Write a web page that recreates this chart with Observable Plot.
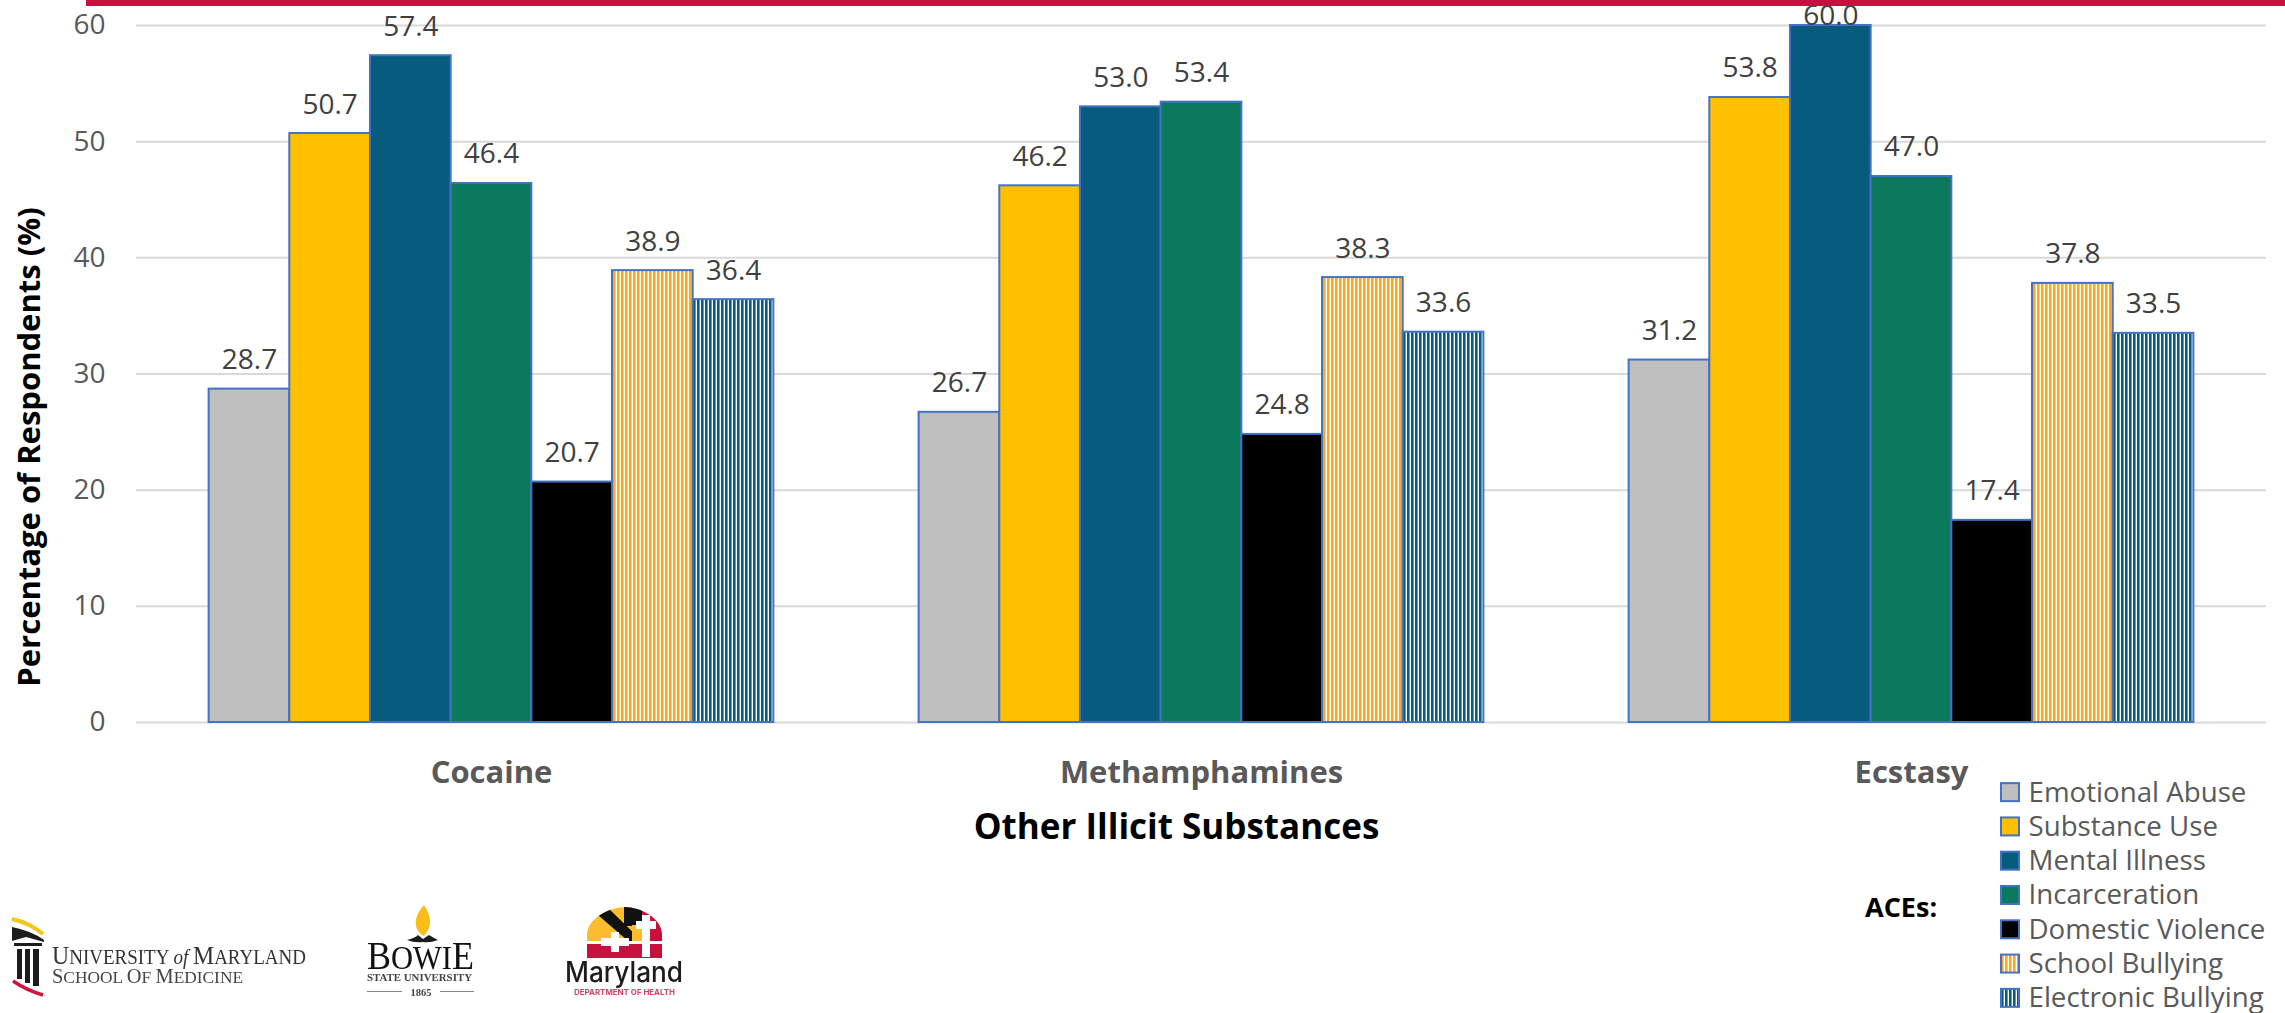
<!DOCTYPE html>
<html>
<head>
<meta charset="utf-8">
<script src="https://cdn.jsdelivr.net/npm/d3@7"></script>
<script src="https://cdn.jsdelivr.net/npm/@observablehq/plot@0.6"></script>
<style>
  html, body { margin: 0; padding: 0; background: #fff; overflow: hidden; }
  #page { position: relative; width: 2285px; height: 1013px; overflow: hidden; font-family: "Open Sans", sans-serif; }
  #page > * { position: absolute; }
  #topband { left: 86px; top: 0; right: 0; height: 6px; background: #c8103e; z-index: 5; }
  #chart { left: 0; top: 0; }
  #legend { left: 2000px; top: 775px; }
  #aces { left: 1865px; top: 889px; font: 700 27px "Open Sans", sans-serif; color: #000; line-height: 36px; }
  #logos { left: 0; top: 890px; filter: blur(0.7px); }
  svg { overflow: visible; }
</style>
</head>
<body>
<div id="page">
  <svg width="0" height="0" aria-hidden="true">
    <defs>
      <pattern id="stripes-orange" patternUnits="userSpaceOnUse" width="4" height="4">
        <rect width="4" height="4" fill="#fff"/><rect x="1" width="2.6" height="4" fill="#fba825"/>
      </pattern>
      <pattern id="stripes-teal" patternUnits="userSpaceOnUse" width="4" height="4">
        <rect width="4" height="4" fill="#fff"/><rect x="1" width="2.6" height="4" fill="#075c7e"/>
      </pattern>
      <clipPath id="arch"><path d="M587 958V935C587 918 610 907 625 907C640 907 662 918 662 935V958Z"/></clipPath>
    </defs>
  </svg>
  <div id="chart"></div>
  <div id="topband"></div>
  <div id="legend"></div>
  <div id="aces">ACEs:</div>

  <!-- Partner logos -->
  <svg id="logos" width="720" height="123" viewBox="0 890 720 123">
    <g>
      <path d="M12 919Q30 923 43 934" fill="none" stroke="#f6c61d" stroke-width="4"/>
      <path d="M12 927Q32 931 44 940V942L26 937L12 941Z" fill="#1c1c1c"/>
      <rect x="14" y="943" width="28" height="3" fill="#1c1c1c"/>
      <rect x="17" y="949" width="5" height="30" fill="#1c1c1c"/>
      <rect x="25" y="949" width="5" height="34" fill="#1c1c1c"/>
      <rect x="33" y="949" width="6" height="37" fill="#1c1c1c"/>
      <path d="M13 981Q26 990 43 995" fill="none" stroke="#d3133c" stroke-width="3.5"/>
      <text x="52" y="964" font-family="Liberation Serif" font-size="20" fill="#333" textLength="254" lengthAdjust="spacingAndGlyphs"><tspan font-size="25">U</tspan>NIVERSITY <tspan font-style="italic">of</tspan> <tspan font-size="25">M</tspan>ARYLAND</text>
      <text x="52" y="983" font-family="Liberation Serif" font-size="17" fill="#444" textLength="191" lengthAdjust="spacingAndGlyphs"><tspan font-size="20">S</tspan>CHOOL <tspan font-size="20">O</tspan>F <tspan font-size="20">M</tspan>EDICINE</text>
    </g>
    <g>
      <path d="M424 905C432 917 432 927 424 936C414 931 412 918 424 905Z" fill="#fbbd1a"/>
      <path d="M407 940Q415 938 418 935L423 939L429 935Q434 938 438 940Q430 943 423 942Q414 943 407 940Z" fill="#1c1c1c"/>
      <text x="367" y="969" font-family="Liberation Serif" font-size="33" fill="#111" textLength="107" lengthAdjust="spacingAndGlyphs"><tspan font-size="39">B</tspan>OWI<tspan font-size="39">E</tspan></text>
      <text x="367" y="981" font-family="Liberation Serif" font-weight="700" font-size="11" fill="#444" textLength="105" lengthAdjust="spacingAndGlyphs">STATE UNIVERSITY</text>
      <text x="421" y="996" font-family="Liberation Serif" font-weight="700" font-size="10.5" fill="#444" text-anchor="middle">1865</text>
      <path d="M367 991.5H402M440 991.5H474" stroke="#888" stroke-width="1.2"/>
    </g>
    <g>
      <g clip-path="url(#arch)">
        <rect x="587" y="905" width="76" height="36" fill="#fbbd2e"/>
        <path d="M605 905L642 941H628L598 915Z" fill="#111"/>
        <rect x="624" y="905" width="19" height="21" fill="#111"/>
        <rect x="642" y="905" width="21" height="36" fill="#c8103e"/>
        <path d="M632 925H643V941H632Z" fill="#fbbd2e"/>
        <rect x="587" y="944" width="76" height="14" fill="#c8103e"/>
        <path d="M642 915h8v6h6v8h-6v28h-8v-28h-6v-8h6Z" fill="#fff"/>
        <path d="M611 932h8v6h10v8h-10v6h-8v-6h-10v-8h10Z" fill="#fff"/>
      </g>
      <text x="565" y="982" font-family="Inter" font-weight="500" font-size="28" fill="#1c1c1c" textLength="118" lengthAdjust="spacingAndGlyphs">Maryland</text>
      <text x="574" y="995" font-family="Inter" font-weight="700" font-size="7.5" fill="#d8416a" textLength="101" lengthAdjust="spacingAndGlyphs">DEPARTMENT OF HEALTH</text>
    </g>
  </svg>
</div>

<script>
// Adverse childhood experiences by other illicit substance use
const substances = ["Cocaine", "Methamphamines", "Ecstasy"];
const aces = ["Emotional Abuse", "Substance Use", "Mental Illness", "Incarceration", "Domestic Violence", "School Bullying", "Electronic Bullying"];
const cocaine = [28.7, 50.7, 57.4, 46.4, 20.7, 38.9, 36.4];
const methamphamines = [26.7, 46.2, 53.0, 53.4, 24.8, 38.3, 33.6];
const ecstasy = [31.2, 53.8, 60.0, 47.0, 17.4, 37.8, 33.5];
const yTicks = [0, 10, 20, 30, 40, 50, 60];
const fills = ["#bfbfbf", "#ffc000", "#075c7e", "#0b7a5c", "#000000", "url(#stripes-orange)", "url(#stripes-teal)"];

const outline = "#4472c4";
const textGrey = "#595959";
const font = '"Open Sans", sans-serif';

const rows = [cocaine, methamphamines, ecstasy].flatMap((values, i) =>
  values.map((value, j) => ({substance: substances[i], ace: aces[j], value}))
);
const colorScale = {type: "ordinal", domain: aces, range: fills};

const chart = Plot.plot({
  width: 2285,
  height: 860,
  marginLeft: 136,
  marginRight: 19,
  marginTop: 25,
  marginBottom: 138,
  style: {fontFamily: font, background: "transparent"},
  fx: {domain: substances, padding: 0, round: false, label: null},
  x: {domain: aces, axis: null, paddingInner: 0, paddingOuter: 0.9, round: false},
  y: {domain: [0, 60]},
  color: colorScale,
  marks: [
    Plot.gridY(yTicks, {stroke: "#d9d9d9", strokeOpacity: 1, strokeWidth: 2}),
    Plot.axisY({ticks: yTicks, anchor: "left", tickSize: 0, tickPadding: 31, fontSize: 28, fill: textGrey, label: null}),
    Plot.axisFx({anchor: "bottom", tickSize: 0, tickPadding: 38, fontSize: 31, fontWeight: 700, fill: textGrey, label: null}),
    // Axis titles sit off-centre, so they are placed from the frame edges
    Plot.text(["Percentage of Respondents (%)"], {fx: () => substances[0], text: (d) => d, frameAnchor: "left", textAnchor: "middle", rotate: -90, dx: -106, dy: 73, fontSize: 31, fontWeight: 700, fill: "#000"}),
    Plot.text(["Other Illicit Substances"], {fx: () => substances[1], text: (d) => d, frameAnchor: "bottom", lineAnchor: "middle", dx: -25, dy: 105, fontSize: 35, fontWeight: 700, fill: "#000"}),
    Plot.barY(rows, {fx: "substance", x: "ace", y: "value", fill: "ace", stroke: outline, strokeWidth: 2}),
    Plot.text(rows.filter((d) => d.value < 60), {fx: "substance", x: "ace", y: "value", text: (d) => d.value.toFixed(1), dy: -29, fontSize: 28, fill: "#404040"}),
    // The tallest bar reaches the top of the frame, so its label sits tighter
    Plot.text(rows.filter((d) => d.value >= 60), {fx: "substance", x: "ace", y: "value", text: (d) => d.value.toFixed(1), dy: -9, fontSize: 28, fill: "#404040"})
  ]
});
document.getElementById("chart").append(chart);

const legend = Plot.plot({
  width: 285,
  height: 240,
  marginLeft: 1,
  marginRight: 266,
  marginTop: 0,
  marginBottom: 0,
  style: {fontFamily: font, background: "transparent"},
  x: {domain: [""], axis: null, padding: 0, round: false},
  y: {domain: aces, axis: null, paddingInner: 0.475, paddingOuter: 0.2375, round: false},
  color: colorScale,
  marks: [
    Plot.cell(aces, {x: () => "", y: (d) => d, fill: (d) => d, stroke: outline, strokeWidth: 2}),
    Plot.text(aces, {x: () => "", y: (d) => d, text: (d) => d, textAnchor: "start", dx: 18, fontSize: 27.7, fill: textGrey})
  ]
});
document.getElementById("legend").append(legend);
</script>
</body>
</html>
